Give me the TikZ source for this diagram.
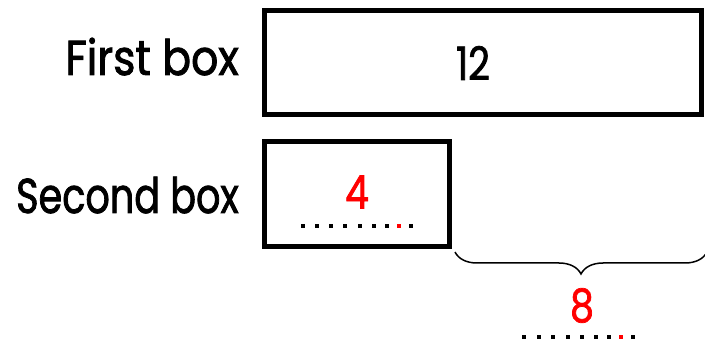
\documentclass[tikz,border=0pt]{standalone}
\usepackage{fontspec}
\setmainfont{Poppins}
\newfontfamily\lblfont[FakeStretch=0.82, FakeBold=1.6]{Poppins}
\usetikzlibrary{decorations.pathreplacing}
\definecolor{numred}{RGB}{255,0,0}
\tikzset{
  barbox/.style={draw=black, line width=5pt, fill=none},
  lbl/.style={font=\lblfont\fontsize{49}{55}\selectfont, inner sep=0pt, anchor=base east},
  num/.style={font=\lblfont\fontsize{46}{52}\selectfont, inner sep=0pt},
  dotsq/.style={fill=black, draw=none},
  reddot/.style={fill=numred, draw=none},
  bracestyle/.style={decorate, decoration={brace, mirror, amplitude=22pt}, line width=1.5pt}
}
\begin{document}
\begin{tikzpicture}[x=1pt,y=-1pt]
\useasboundingbox (0,0) rectangle (705,342);
% boxes
\draw[barbox] (264.5,10.5) rectangle (701.5,114.5);
\draw[barbox] (264.5,142) rectangle (449.5,247);
\coordinate (b1c) at (473,63);
\coordinate (b2c) at (357,192);
% labels
\node[lbl] (l1) at (239,75) {\scalebox{1.06}[1]{First box}};
\node[lbl] (l2) at (239,213) {\scalebox{0.95}[1]{Second box}};
% numbers
\node[num] (n12) at (b1c) {12};
\node[num, text=numred] (n4) at (b2c) {4};
% dotted line in second box
\foreach \x in {302.7,316.7,331.3,345.3,360,374,387.3,410.7}
  \fill[dotsq] (\x-2,224) rectangle (\x+2,228);
\fill[reddot] (399.3-2,224) rectangle (399.3+2,228);
% brace
\coordinate (brL) at (455,252);
\coordinate (brR) at (707,252);
\draw[bracestyle] (brL) -- (brR);
\node[num, text=numred] (n8) at (582,305.5) {8};
\foreach \x in {524,539,553.3,567.7,581.7,596,609,632.7}
  \fill[dotsq] (\x-2,335) rectangle (\x+2,339);
\fill[reddot] (620.7-2,335) rectangle (620.7+2,339);
\end{tikzpicture}
\end{document}
